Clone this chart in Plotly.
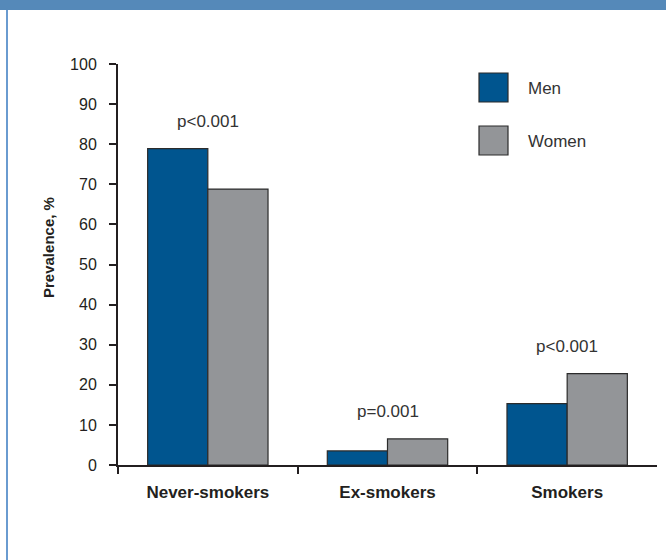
import plotly.graph_objects as go

# Smoking status prevalence by sex
categories = ["Never-smokers", "Ex-smokers", "Smokers"]
men = [78.9, 3.5, 15.3]
women = [68.8, 6.5, 22.8]
p_labels = ["p<0.001", "p=0.001", "p<0.001"]
y_ticks = [0, 10, 20, 30, 40, 50, 60, 70, 80, 90, 100]
series_names = ["Men", "Women"]

W, H = 666, 560
L, R, T, B = 118, 9, 64, 95
PW, PH = W - L - R, H - T - B

MEN_C = "#00558f"
WOMEN_C = "#939598"
EDGE = "#2b2b2b"
AXIS_C = "#231f20"
TEXT_C = "#231f20"
FONT = "Liberation Sans, Arial, sans-serif"


def px_x(px):
    return (px - L) / PW


def px_y(py):
    return (H - B - py) / PH


fig = go.Figure()
fig.add_trace(go.Bar(x=categories, y=men, name=series_names[0],
                     marker=dict(color=MEN_C, line=dict(color=EDGE, width=1.2)),
                     showlegend=False, hoverinfo="y"))
fig.add_trace(go.Bar(x=categories, y=women, name=series_names[1],
                     marker=dict(color=WOMEN_C, line=dict(color=EDGE, width=1.2)),
                     showlegend=False, hoverinfo="y"))
# invisible trace drives the boundary ticks on the overlaid numeric axis
fig.add_trace(go.Scatter(x=[-0.5, 2.5], y=[0, 0], xaxis="x2", mode="lines",
                         line=dict(width=0), showlegend=False, hoverinfo="skip"))

annotations = []
for cat, m, w, p in zip(categories, men, women, p_labels):
    annotations.append(dict(x=cat, y=max(m, w) + 6.8, xref="x", yref="y",
                            text=p, showarrow=False, xanchor="center", yanchor="middle",
                            font=dict(family=FONT, size=17, color="#333333")))

# y-axis title
annotations.append(dict(x=px_x(49), y=px_y(248), xref="paper", yref="paper",
                        text="<b>Prevalence, %</b>", textangle=-90, showarrow=False,
                        xanchor="center", yanchor="middle",
                        font=dict(family=FONT, size=15, color=TEXT_C)))

shapes = []
# header band and left frame
shapes.append(dict(type="rect", xref="paper", yref="paper",
                   x0=px_x(0), x1=px_x(W), y0=px_y(10), y1=px_y(0),
                   fillcolor="#5589b9", line=dict(width=0), layer="above"))
shapes.append(dict(type="rect", xref="paper", yref="paper",
                   x0=px_x(6), x1=px_x(8), y0=px_y(H), y1=px_y(10),
                   fillcolor="#6a9bd0", line=dict(width=0), layer="above"))

# legend
legend_rows = [(series_names[0], MEN_C, 73), (series_names[1], WOMEN_C, 126)]
for name, col, top in legend_rows:
    shapes.append(dict(type="rect", xref="paper", yref="paper",
                       x0=px_x(479), x1=px_x(508), y0=px_y(top + 29), y1=px_y(top),
                       fillcolor=col, line=dict(color=EDGE, width=1.2)))
    annotations.append(dict(x=px_x(526), y=px_y(top + 15), xref="paper", yref="paper",
                            text=name, showarrow=False, xanchor="left", yanchor="middle",
                            font=dict(family=FONT, size=17, color="#333333")))

fig.update_layout(
    width=W, height=H,
    margin=dict(l=L, r=R, t=T, b=B, pad=0),
    paper_bgcolor="white", plot_bgcolor="white",
    barmode="group", bargap=0.33, bargroupgap=0,
    font=dict(family=FONT, color=TEXT_C),
    xaxis=dict(type="category", range=[-0.5, 2.5], showline=True, linecolor=AXIS_C,
               linewidth=2, ticks="", showgrid=False, zeroline=False,
               tickfont=dict(family=FONT, size=17, color=TEXT_C),
               ticklabelstandoff=11,
               tickvals=categories, ticktext=["<b>%s</b>" % c for c in categories]),
    xaxis2=dict(overlaying="x", range=[-0.5, 2.5], showline=False, showgrid=False,
                zeroline=False, tickvals=[-0.5, 0.5, 1.5], ticktext=["", "", ""],
                ticks="outside", ticklen=8, tickwidth=2, tickcolor=AXIS_C,
                side="bottom", anchor="y"),
    yaxis=dict(range=[0, 100], tickvals=y_ticks, showline=True, linecolor=AXIS_C,
               linewidth=2, ticks="outside", ticklen=7, tickwidth=2, tickcolor=AXIS_C,
               showgrid=False, zeroline=False, ticklabelstandoff=9,
               tickfont=dict(family=FONT, size=16, color=TEXT_C)),
    annotations=annotations, shapes=shapes,
)

fig.write_html("out.html")
